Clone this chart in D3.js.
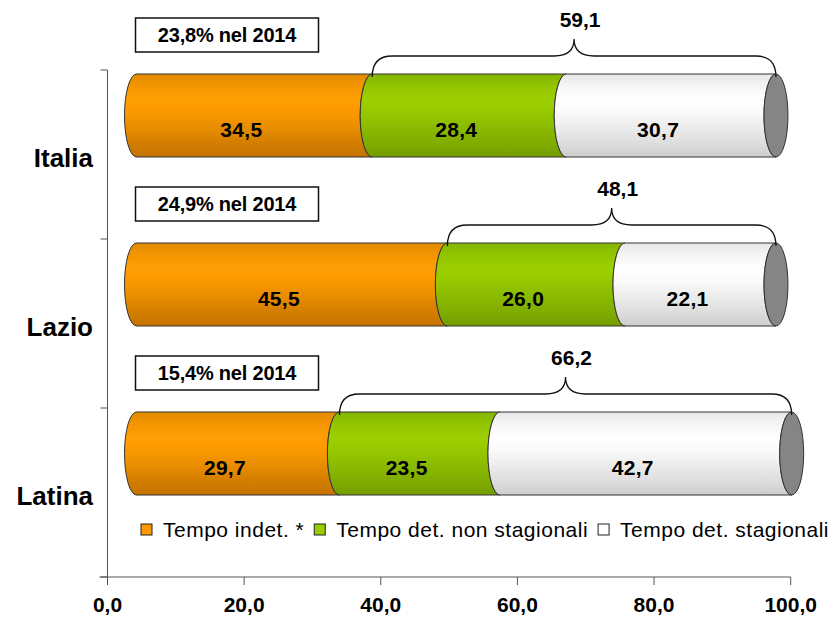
<!DOCTYPE html>
<html>
<head>
<meta charset="utf-8">
<script src="https://cdn.jsdelivr.net/npm/d3@7"></script>
<style>
  body { margin: 0; background: #fff; }
  text { font-family: "Liberation Sans", Arial, sans-serif; }
</style>
</head>
<body>
<div class="container"></div>
<script>
////////////////////////////////////////////////////////////////
// DATA
////////////////////////////////////////////////////////////////
var categories = ["Italia", "Lazio", "Latina"];
var seriesNames = ["Tempo indet. *", "Tempo det. non stagionali", "Tempo det. stagionali"];
var indet = [34.5, 45.5, 29.7]; //tempo indeterminato
var detNonStag = [28.4, 26.0, 23.5]; //tempo det. non stagionali
var detStag = [30.7, 22.1, 42.7]; //tempo det. stagionali
var share2014 = [23.8, 24.9, 15.4]; //quota nel 2014 (box)
var xTicks = [0, 20, 40, 60, 80, 100];

////////////////////////////////////////////////////////////////
// STAGE + SCALES
////////////////////////////////////////////////////////////////
var W = 839, H = 621;
var it = d3.formatLocale({decimal: ",", thousands: ".", grouping: [3], currency: ["", "€"]});
var fmt = it.format(".1f");

var svg = d3.select(".container")
  .append("svg")
  .attr("width", W)
  .attr("height", H);

var x = d3.scaleLinear().domain([0, 100]).range([107.5, 790.7]);
var y = d3.scaleBand().domain(categories).range([70, 577]).padding(0);

var depth = 29; //3d shift of the cylinders
var rx = 12; //ellipse radius of the cylinder ends
var barOff = 4, barH = 83;

////////////////////////////////////////////////////////////////
// GRADIENTS
////////////////////////////////////////////////////////////////
var palettes = [
  ["#e08a00", "#f29400", "#ff9f05", "#fb9a00", "#e88c00", "#d27c00", "#c47200"],
  ["#84b500", "#90c200", "#9dd000", "#97c900", "#8aba00", "#7fab00", "#749c00"],
  ["#e6e6e6", "#f3f3f3", "#ffffff", "#fbfbfb", "#ebebeb", "#dcdcdc", "#cdcdcd"]
];
var stopAt = [0, 0.12, 0.3, 0.45, 0.65, 0.85, 1];
var defs = svg.append("defs");
palettes.forEach(function(p, i) {
  var g = defs.append("linearGradient")
    .attr("id", "grad" + i)
    .attr("x1", 0).attr("y1", 0).attr("x2", 0).attr("y2", 1);
  p.forEach(function(c, k) {
    g.append("stop").attr("offset", stopAt[k]).attr("stop-color", c);
  });
});

////////////////////////////////////////////////////////////////
// AXES
////////////////////////////////////////////////////////////////
var axisCol = "#555";
var yTop = y.range()[0], yBot = y.range()[1];

svg.append("line")
  .attr("x1", x(0)).attr("x2", x(0))
  .attr("y1", yTop).attr("y2", yBot)
  .attr("stroke", axisCol);

var bounds = categories.map(function(c) { return y(c); }).concat([yBot]);
svg.selectAll(".ytick")
  .data(bounds)
  .enter().append("line")
  .attr("x1", x(0) - 7).attr("x2", x(0))
  .attr("y1", function(d) { return d; })
  .attr("y2", function(d) { return d; })
  .attr("stroke", axisCol);

svg.append("line")
  .attr("x1", x(0) - 8).attr("x2", x(100))
  .attr("y1", yBot).attr("y2", yBot)
  .attr("stroke", axisCol);

svg.selectAll(".xtick")
  .data(xTicks)
  .enter().append("line")
  .attr("x1", function(d) { return x(d); })
  .attr("x2", function(d) { return x(d); })
  .attr("y1", yBot).attr("y2", yBot + 8)
  .attr("stroke", axisCol);

svg.selectAll(".xlab")
  .data(xTicks)
  .enter().append("text")
  .attr("x", function(d) { return x(d); })
  .attr("y", 612)
  .attr("text-anchor", "middle")
  .attr("font-size", 21)
  .attr("font-weight", "bold")
  .text(function(d) { return fmt(d); });

svg.selectAll(".ylab")
  .data(categories)
  .enter().append("text")
  .attr("x", 93)
  .attr("y", function(d) { return y(d) + y.bandwidth() / 2 + 3; })
  .attr("dy", "0.35em")
  .attr("text-anchor", "end")
  .attr("font-size", 26)
  .attr("font-weight", "bold")
  .text(function(d) { return d; });

////////////////////////////////////////////////////////////////
// CYLINDERS
////////////////////////////////////////////////////////////////
function segPath(xa, xb, y0, y1) {
  var ry = (y1 - y0) / 2;
  return "M" + xa + "," + y0 + "L" + xb + "," + y0 +
    "A" + rx + "," + ry + " 0 0 0 " + xb + "," + y1 +
    "L" + xa + "," + y1 +
    "A" + rx + "," + ry + " 0 0 1 " + xa + "," + y0 + "Z";
}

categories.forEach(function(c, i) {
  var vals = [indet[i], detNonStag[i], detStag[i]];
  var top = y(c) + barOff, bot = top + barH;
  var g = svg.append("g");
  var cum = 0;
  vals.forEach(function(v, k) {
    var xa = x(cum) + depth, xb = x(cum + v) + depth;
    g.append("path")
      .attr("d", segPath(xa, xb, top, bot))
      .attr("fill", "url(#grad" + k + ")")
      .attr("stroke", "#333")
      .attr("stroke-width", 1);
    cum += v;
  });
  // end cap
  g.append("ellipse")
    .attr("cx", x(cum) + depth)
    .attr("cy", (top + bot) / 2)
    .attr("rx", rx)
    .attr("ry", barH / 2)
    .attr("fill", "#858585")
    .attr("stroke", "#333")
    .attr("stroke-width", 1);

  // value labels
  cum = 0;
  vals.forEach(function(v) {
    g.append("text")
      .attr("x", x(cum + v / 2) + 16)
      .attr("y", (top + bot) / 2 + 14)
      .attr("dy", "0.35em")
      .attr("text-anchor", "middle")
      .attr("font-size", 21)
      .attr("font-weight", "bold")
      .attr("letter-spacing", 0.3)
      .text(fmt(v));
    cum += v;
  });

  // brace over the fixed-term part
  var x1 = x(indet[i]) + depth, x2 = x(cum) + depth, xm = (x1 + x2) / 2;
  var yb = top + 3, yh = top - 18, yp = top - 35;
  var r = 20;
  var brace = "M" + x1 + "," + yb +
    "Q" + x1 + "," + yh + " " + (x1 + r) + "," + yh +
    "L" + (xm - r) + "," + yh +
    "Q" + xm + "," + yh + " " + xm + "," + yp +
    "Q" + xm + "," + yh + " " + (xm + r) + "," + yh +
    "L" + (x2 - r) + "," + yh +
    "Q" + x2 + "," + yh + " " + x2 + "," + yb;
  g.append("path")
    .attr("d", brace)
    .attr("fill", "none")
    .attr("stroke", "#111")
    .attr("stroke-width", 1.3);
  g.append("text")
    .attr("x", xm + 6)
    .attr("y", yp - 12)
    .attr("text-anchor", "middle")
    .attr("font-size", 21)
    .attr("font-weight", "bold")
    .text(fmt(detNonStag[i] + detStag[i]));

  // 2014 box
  var bx = x(0) + 28, by = top - 56;
  g.append("rect")
    .attr("x", bx).attr("y", by)
    .attr("width", 183).attr("height", 34)
    .attr("fill", "#fff")
    .attr("stroke", "#111")
    .attr("stroke-width", 1.5);
  g.append("text")
    .attr("x", bx + 183 / 2)
    .attr("y", by + 17)
    .attr("dy", "0.35em")
    .attr("text-anchor", "middle")
    .attr("font-size", 20)
    .attr("font-weight", "bold")
    .attr("letter-spacing", -0.2)
    .text(fmt(share2014[i]) + "% nel 2014");
});

////////////////////////////////////////////////////////////////
// LEGEND
////////////////////////////////////////////////////////////////
var legendFill = ["#ff9900", "#99cc00", "#ffffff"];
var lx = 141, ly = 530;
seriesNames.forEach(function(s, k) {
  svg.append("rect")
    .attr("x", lx).attr("y", ly - 6)
    .attr("width", 11).attr("height", 11)
    .attr("fill", legendFill[k])
    .attr("stroke", "#222");
  var t = svg.append("text")
    .attr("x", lx + 22)
    .attr("y", ly)
    .attr("dy", "0.35em")
    .attr("font-size", 21)
    .attr("letter-spacing", 0.5)
    .text(s);
  lx = lx + 22 + t.node().getComputedTextLength() + 10;
});
</script>
</body>
</html>
